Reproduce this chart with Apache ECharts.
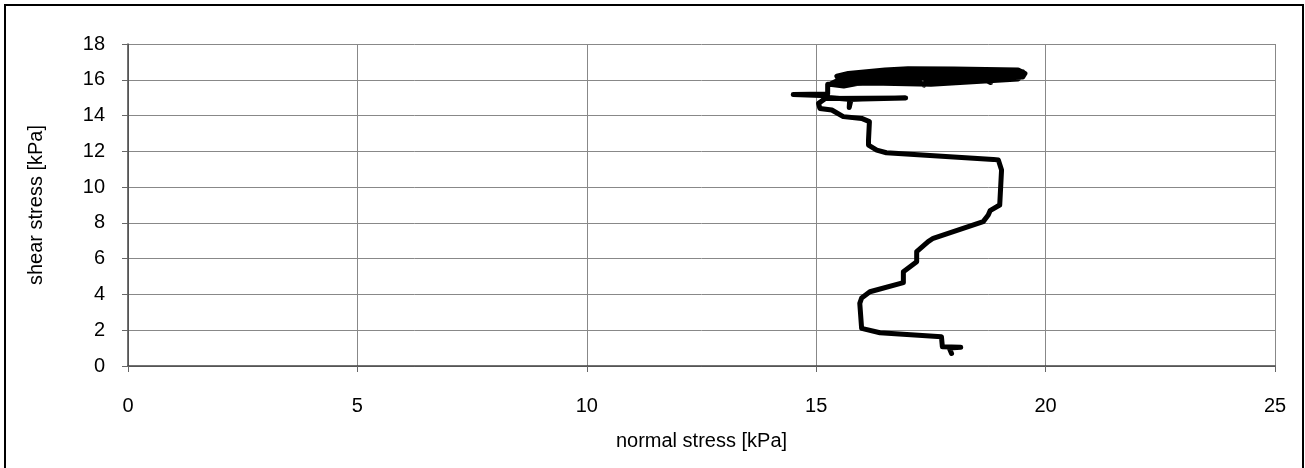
<!DOCTYPE html>
<html>
<head>
<meta charset="utf-8">
<script src="https://cdn.jsdelivr.net/npm/echarts@6/dist/echarts.min.js"></script>
<style>
  html, body { margin: 0; padding: 0; background: #fff; }
  #chart { width: 1305px; height: 468px; }
</style>
</head>
<body>
<div id="chart"></div>
<script>
// Stress path of a shear test: normal stress vs. shear stress (kPa)
const normalStress = [
  17.95, 17.9, 18.15, 17.75, 17.73, 16.39, 15.99, 15.95, 15.99, 16.17,
  16.9, 16.9, 17.19, 17.19, 17.44, 17.55, 18.64, 18.75, 18.79, 19.0,
  19.04, 18.97, 18.86, 16.53, 16.32, 16.14, 16.14, 16.16, 15.99, 15.59,
  15.34, 15.08, 15.05, 15.2, 16.95, 16.0, 15.73, 15.72, 15.76, 15.2,
  15.1, 14.5, 15.25, 15.25, 16.2, 17.5, 19.4, 19.5, 18.5, 16.8,
  15.5, 15.45, 15.7, 16.5, 17.0, 18.0, 19.4, 19.55, 19.5, 18.8,
  18.8, 18.6, 17.4, 17.35, 17.2, 16.0, 15.6, 15.3, 15.5, 17.0,
  18.5, 19.5, 19.45, 17.5, 16.0, 15.6, 16.5, 18.0, 19.3, 19.4,
  17.8
];
const shearStress = [
  0.7, 1.0, 1.05, 1.08, 1.64, 1.86, 2.1, 3.5, 3.8, 4.15,
  4.66, 5.27, 5.83, 6.39, 6.95, 7.14, 8.07, 8.44, 8.68, 9.0,
  10.96, 11.51, 11.55, 11.92, 12.07, 12.35, 12.63, 13.66, 13.84, 13.94,
  14.31, 14.4, 14.68, 14.95, 14.98, 14.92, 14.9, 14.45, 14.9, 15.02,
  15.12, 15.18, 15.2, 15.75, 15.82, 15.75, 16.05, 16.3, 16.25, 16.1,
  15.95, 16.2, 16.35, 16.55, 16.62, 16.6, 16.55, 16.35, 16.15, 16.1,
  15.85, 16.1, 15.95, 15.7, 15.95, 15.85, 15.65, 15.75, 16.0, 16.2,
  16.45, 16.45, 16.25, 16.35, 16.3, 16.1, 16.05, 16.15, 16.2, 16.5,
  16.55
];
const xTicks = { min: 0, max: 25, interval: 5 };
const yTicks = { min: 0, max: 18, interval: 2 };

const path = normalStress.map((x, i) => [x, shearStress[i]]);

const chart = echarts.init(document.getElementById('chart'), null, { renderer: 'canvas' });
const font = '"Liberation Sans", Arial, sans-serif';

chart.setOption({
  animation: false,
  backgroundColor: '#fff',
  grid: { left: 128, right: 30, top: 44, bottom: 102, containLabel: false },
  graphic: [{
    type: 'rect',
    shape: { x: 5, y: 5, width: 1298, height: 470 },
    style: { fill: 'none', stroke: '#000', lineWidth: 2 },
    silent: true
  }],
  xAxis: {
    type: 'value',
    min: xTicks.min, max: xTicks.max, interval: xTicks.interval,
    name: 'normal stress [kPa]',
    nameLocation: 'middle',
    nameGap: 65,
    nameTextStyle: { fontFamily: font, fontSize: 20, color: '#000' },
    axisLine: { show: true, onZero: false, lineStyle: { color: '#444', width: 1.5 } },
    axisTick: { show: true, length: 6, inside: false, lineStyle: { color: '#666' } },
    axisLabel: { fontFamily: font, fontSize: 20, color: '#000', margin: 30 },
    splitLine: { show: true, lineStyle: { color: '#888', width: 1 } }
  },
  yAxis: {
    type: 'value',
    min: yTicks.min, max: yTicks.max, interval: yTicks.interval,
    name: 'shear stress [kPa]',
    nameLocation: 'middle',
    nameGap: 82,
    nameRotate: 90,
    nameTextStyle: { fontFamily: font, fontSize: 20, color: '#000' },
    axisLine: { show: true, onZero: false, lineStyle: { color: '#444', width: 1.5 } },
    axisTick: { show: true, length: 6, inside: false, lineStyle: { color: '#666' } },
    axisLabel: { fontFamily: font, fontSize: 20, color: '#000', margin: 23 },
    splitLine: { show: true, lineStyle: { color: '#888', width: 1 } }
  },
  series: [{
    type: 'line',
    data: path,
    showSymbol: false,
    smooth: false,
    clip: false,
    lineStyle: { color: '#000', width: 5, join: 'round', cap: 'round' }
  }]
});
</script>
</body>
</html>
